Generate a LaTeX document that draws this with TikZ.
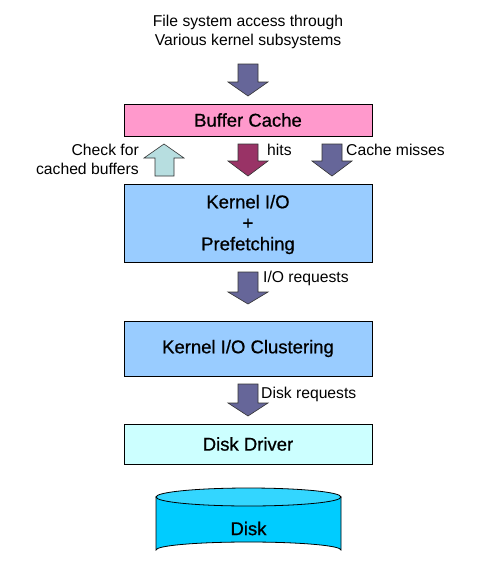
\documentclass[tikz,border=0pt]{standalone}
\usepackage{fontspec}
\setmainfont{Liberation Sans}
\newfontfamily\boxfont[FakeBold=0.7]{Liberation Sans}
\definecolor{pinkfill}{HTML}{FF99CC}
\definecolor{bluefill}{HTML}{99CCFF}
\definecolor{cyanfill}{HTML}{CCFFFF}
\definecolor{diskfill}{HTML}{00CCFF}
\definecolor{disktop}{HTML}{33D6FF}
\definecolor{arrowfill}{HTML}{666699}
\definecolor{hitfill}{HTML}{993366}
\definecolor{upfill}{HTML}{B7DEE0}
\newcommand\bdarrow[5]{% cx, top, shoulder, tip, fill
  \filldraw[fill=#5,draw=black!80,line width=0.6pt,line join=miter]
    (#1-10,#2) -- (#1+10,#2) -- (#1+10,#3) -- (#1+20,#3) -- (#1,#4)
    -- (#1-20,#3) -- (#1-10,#3) -- cycle;}
\begin{document}
\begin{tikzpicture}[x=1pt,y=-1pt,
  boxstyle/.style={draw=black,line width=0.8pt,minimum width=248pt,inner sep=0pt,font=\boxfont\fontsize{18.5}{21}\selectfont,align=center},
  lbl/.style={font=\fontsize{15.7}{19}\selectfont,inner sep=0pt}]
\useasboundingbox (0,0) rectangle (480,576);
\fill[white] (0,0) rectangle (480,576);
% top text
\node[lbl,align=center] (top) at (248,32) {File system access through\\Various kernel subsystems};
% boxes
\node[boxstyle,fill=pinkfill,minimum height=32pt] (bc) at (248,120) {Buffer Cache};
\node[boxstyle,fill=bluefill,minimum height=78pt] (kio) at (248,223) {};
\node[font=\boxfont\fontsize{18.5}{21}\selectfont,align=center,inner sep=0pt] (kiotext) at (248,224.5) {Kernel I/O\\+\\Prefetching};
\node[boxstyle,fill=bluefill,minimum height=55pt] (kioc) at (248,348.5) {Kernel I/O Clustering};
\node[boxstyle,fill=cyanfill,minimum height=40pt] (dd) at (248,444) {Disk Driver};
% block arrows
\bdarrow{248}{64}{82}{96}{arrowfill}
\bdarrow{248}{144}{161}{176}{hitfill}
\bdarrow{332}{144}{161}{176}{arrowfill}
\filldraw[fill=upfill,draw=black!80,line width=0.6pt,line join=miter]
  (155,176) -- (174,176) -- (174,158) -- (184,158) -- (164,144) -- (144,158) -- (155,158) -- cycle;
\bdarrow{248}{272}{292}{304}{arrowfill}
\bdarrow{248}{384}{403}{416}{arrowfill}
% labels
\node[lbl,anchor=west] (hits) at (267,150) {hits};
\node[lbl,anchor=west] (miss) at (346,150) {Cache misses};
\node[lbl,anchor=east,align=right] (chk) at (139,159.5) {Check for\\cached buffers};
\node[lbl,anchor=west] (ior) at (263,278) {I/O requests};
\node[lbl,anchor=west] (dr) at (261,394) {Disk requests};
% disk cylinder
\filldraw[fill=diskfill,draw=black,line width=0.8pt]
  (156,497) -- (156,550) arc[start angle=180,end angle=360,x radius=92.5,y radius=8] -- (341,497) -- cycle;
\filldraw[fill=disktop,draw=black,line width=0.8pt] (248.5,497) ellipse[x radius=92.5,y radius=9];
\node[font=\boxfont\fontsize{18.5}{21}\selectfont] (disk) at (248.5,528.5) {Disk};
\end{tikzpicture}
\end{document}
